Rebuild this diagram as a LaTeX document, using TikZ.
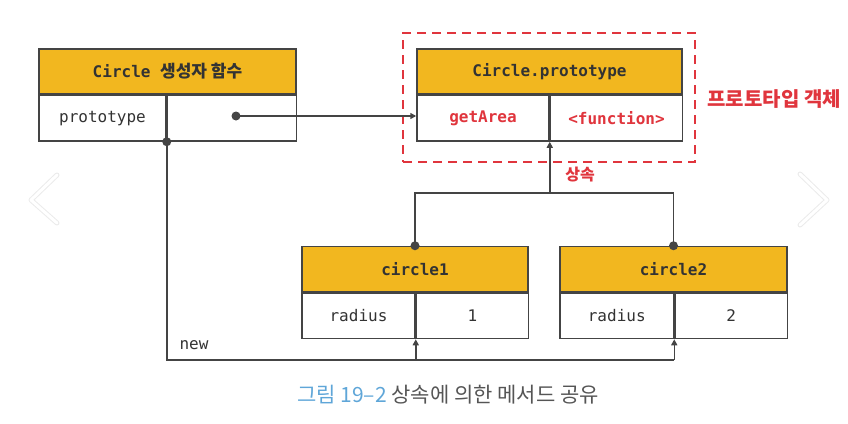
\documentclass[tikz,border=0pt]{standalone}
\usepackage{fontspec}
\setmainfont{Noto Sans CJK KR}
\setmonofont{DejaVu Sans Mono}
\newfontfamily\kr{Noto Sans CJK KR}
\usepackage{xcolor}
\usetikzlibrary{arrows.meta,positioning}

\definecolor{hdrfill}{HTML}{F2B71F}
\definecolor{linegray}{HTML}{444444}
\definecolor{protored}{HTML}{E0353D}
\definecolor{txtgray}{HTML}{333333}
\definecolor{capblue}{HTML}{5FA6D8}
\definecolor{capgray}{HTML}{555555}

\begin{document}
\begin{tikzpicture}[x=1pt,y=-1pt]
		\tikzstyle{header}=[draw=linegray, line width=1.5pt, fill=hdrfill, minimum height=45pt, inner sep=0pt, text=txtgray, font=\ttfamily\bfseries\fontsize{16}{16}\selectfont]
		\tikzstyle{cell}=[draw=linegray, line width=1.5pt, fill=white, minimum height=45.5pt, inner sep=0pt, anchor=north west, text=txtgray, font=\ttfamily\fontsize{16}{16}\selectfont]
		\tikzstyle{method}=[cell, text=protored, font=\ttfamily\bfseries\fontsize{16}{16}\selectfont]
		\tikzstyle{link}=[draw=linegray, line width=1.5pt]
		\tikzstyle{arr}=[link, -{Triangle[length=6pt,width=6pt]}]
		\tikzstyle{dot}=[circle, fill=linegray, inner sep=0pt, minimum size=9pt]
		\tikzstyle{chevron}=[draw=black!8, line width=5pt, line cap=round, line join=round]
		\tikzstyle{chevron_in}=[draw=white, line width=3pt, line cap=round, line join=round]

		\useasboundingbox (0,0) rectangle (848,423);

		% slider arrows
		\draw [chevron] (57,175) -- (31,200) -- (57,223);
		\draw [chevron_in] (57,175) -- (31,200) -- (57,223);
		\draw [chevron] (800,174) -- (827,200) -- (800,225);
		\draw [chevron_in] (800,174) -- (827,200) -- (800,225);

		% constructor
		\node [header, minimum width=257pt] (ctor) at (167.5,71.5) {Circle {\kr\bfseries\fontsize{17}{17}\selectfont 생성자 함수}};
		\node [cell, minimum width=127pt] (ctork) at (ctor.south west) {prototype};
		\node [cell, minimum width=129pt] (ctorv) at (ctork.north east) {};

		% prototype object
		\node [dashed, draw=protored, line width=2.2pt, dash pattern=on 9pt off 6pt, minimum width=292pt, minimum height=129pt] (protobox) at (549,97.5) {};
		\node [header, minimum width=265pt] (proto) at (549.5,71.5) {Circle.prototype};
		\node [method, minimum width=132pt] (protok) at (proto.south west) {getArea};
		\node [method, minimum width=132pt] (protov) at (protok.north east) {<function>};
		\node [anchor=west, text=protored, font=\kr\bfseries\fontsize{20}{20}\selectfont] (protolabel) at (704,99) {프로토타입 객체};

		% instances
		\node [header, minimum width=226pt] (c1) at (415,269) {circle1};
		\node [cell, minimum width=113pt] (c1k) at (c1.south west) {radius};
		\node [cell, minimum width=112pt] (c1v) at (c1k.north east) {1};

		\node [header, minimum width=227pt] (c2) at (673.5,269) {circle2};
		\node [cell, minimum width=113.5pt] (c2k) at (c2.south west) {radius};
		\node [cell, minimum width=112.5pt] (c2v) at (c2k.north east) {2};

		% connectors
		\coordinate (ptr) at (236,116);
		\draw [arr] (ptr) -- (ptr -| protok.west);

		\coordinate (inh) at (protok.south east |- 0,193);
		\draw [link] (c1.north) |- (inh) -| (c2.north);
		\draw [arr] (inh) -- (protok.south east);
		\node [text=protored, font=\kr\bfseries\fontsize{16}{16}\selectfont] (inhlabel) at (580,175) {상속};

		\coordinate (base) at (0,360);
		\draw [link] (ctork.south east) |- (base -| c2k.south east);
		\draw [arr] (base -| c1k.south east) -- (c1k.south east);
		\draw [arr] (base -| c2k.south east) -- (c2k.south east);
		\node [text=txtgray, font=\ttfamily\fontsize{16}{16}\selectfont] (newlabel) at (194,345) {new};

		\node [dot] at (ptr) {};
		\node [dot] at (ctork.south east) {};
		\node [dot] at (c1.north) {};
		\node [dot] at (c2.north) {};

		% caption
		\node [font=\kr\fontsize{21}{21}\selectfont] (caption) at (448,395) {\textcolor{capblue}{그림 19–2} \textcolor{capgray}{상속에 의한 메서드 공유}};

	\end{tikzpicture}
\end{document}
